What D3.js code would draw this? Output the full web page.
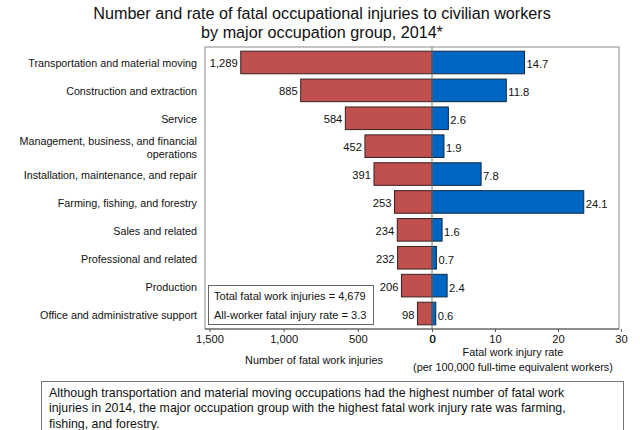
<!DOCTYPE html>
<html><head><meta charset="utf-8">
<script src="https://cdn.jsdelivr.net/npm/d3@7"></script>
<style>
body{margin:0;background:#fff;}
svg{font-family:"Liberation Sans",Arial,sans-serif;}
</style></head>
<body><svg id="c" width="640" height="430"></svg>
<script>
const categories = [
  "Transportation and material moving",
  "Construction and extraction",
  "Service",
  "Management, business, and financial|operations",
  "Installation, maintenance, and repair",
  "Farming, fishing, and forestry",
  "Sales and related",
  "Professional and related",
  "Production",
  "Office and administrative support"
];
const fatalCounts = [1289, 885, 584, 452, 391, 253, 234, 232, 206, 98];
const fatalRates = [14.7, 11.8, 2.6, 1.9, 7.8, 24.1, 1.6, 0.7, 2.4, 0.6];
const countTicks = [1500, 1000, 500, 0];
const rateTicks = [0, 10, 20, 30];
const titleLines = ["Number and rate of fatal occupational injuries to civilian workers", "by major occupation group, 2014*"];
const boxLines = ["Total fatal work injuries = 4,679", "All-worker fatal injury rate = 3.3"];
const noteLines = ["Although transportation and material moving occupations had the highest number of fatal work",
  "injuries in 2014, the major occupation group with the highest fatal work injury rate was farming,",
  "fishing, and forestry."];

const svg = d3.select("#c");
const L = 205, R = 619, T = 47, B = 329, Z = 432;
const xL = d3.scaleLinear().domain([1530, 0]).range([L, Z]);
const xR = d3.scaleLinear().domain([0, 29.7]).range([Z, R]);
const y = d3.scaleBand().domain(d3.range(categories.length)).range([T, B]).paddingInner(0.19).paddingOuter(0.15);

// size a group of texts so that a reference text gets a target width
function fit(sel, refNode, target) {
  const base = 10;
  sel.attr("font-size", base);
  const w = refNode.getComputedTextLength();
  const s = base * target / w;
  sel.attr("font-size", s);
  return s;
}

// title
const title = svg.append("g").selectAll("text").data(titleLines).join("text")
  .attr("x", 322).attr("y", (d, i) => 18.5 + i * 19)
  .attr("text-anchor", "middle").attr("fill", "#111").text(d => d);
fit(title, title.nodes()[0], 458);

// plot box
svg.append("rect").attr("x", L).attr("y", T).attr("width", R - L).attr("height", B - T)
  .attr("fill", "none").attr("stroke", "#8a8a8a").attr("stroke-width", 1);

// bars
const rows = svg.append("g").selectAll("g").data(categories).join("g");
rows.append("rect")
  .attr("x", (d, i) => xL(fatalCounts[i])).attr("y", (d, i) => y(i))
  .attr("width", (d, i) => Z - xL(fatalCounts[i])).attr("height", y.bandwidth())
  .attr("fill", "#C0504D").attr("stroke", "#3a2020").attr("stroke-width", 1);
rows.append("rect")
  .attr("x", Z).attr("y", (d, i) => y(i))
  .attr("width", (d, i) => xR(fatalRates[i]) - Z).attr("height", y.bandwidth())
  .attr("fill", "#0066C4").attr("stroke", "#10283f").attr("stroke-width", 1);

// zero line
svg.append("line").attr("x1", Z).attr("x2", Z).attr("y1", T).attr("y2", B)
  .attr("stroke", "#777").attr("stroke-width", 1);

// value labels
const numSize = 11.2;
rows.append("text")
  .attr("x", (d, i) => xL(fatalCounts[i]) - 3).attr("y", (d, i) => y(i) + y.bandwidth() / 2 + 5)
  .attr("text-anchor", "end").attr("font-size", numSize).attr("fill", "#111")
  .text((d, i) => d3.format(",")(fatalCounts[i]));
rows.append("text")
  .attr("x", (d, i) => xR(fatalRates[i]) + 2).attr("y", (d, i) => y(i) + y.bandwidth() / 2 + 6)
  .attr("font-size", numSize).attr("fill", "#111")
  .text((d, i) => d3.format(".1f")(fatalRates[i]));

// category labels
rows.each(function(d, i) {
  const parts = d.split("|");
  const cy = y(i) + y.bandwidth() / 2;
  d3.select(this).selectAll("text.cat").data(parts).join("text").attr("class", "cat")
    .attr("x", 197).attr("y", (p, j) => cy + 5 + (j - (parts.length - 1) / 2) * 13)
    .attr("text-anchor", "end").attr("fill", "#111").text(p => p);
});
const cats = svg.selectAll("text.cat");
fit(cats, cats.nodes()[0], 169);

// axes
const axL = d3.axisBottom(xL).tickValues(countTicks).tickFormat(d3.format(",")).tickSize(3).tickPadding(3);
const axR = d3.axisBottom(xR).tickValues(rateTicks).tickSize(3).tickPadding(3);
const gL = svg.append("g").attr("transform", `translate(0,${B})`).call(axL);
const gR = svg.append("g").attr("transform", `translate(0,${B})`).call(axR);
[gL, gR].forEach(g => {
  g.select(".domain").remove();
  g.selectAll("line").attr("stroke", "#555");
  g.selectAll("text").attr("font-size", numSize).attr("fill", "#111").attr("font-family", "Liberation Sans");
});
svg.append("line").attr("x1", L).attr("x2", R).attr("y1", B).attr("y2", B).attr("stroke", "#555");

// axis titles
const t1 = svg.append("text").attr("x", 314).attr("y", 364).attr("text-anchor", "middle")
  .attr("fill", "#111").text("Number of fatal work injuries");
fit(t1, t1.node(), 138);
const t2 = svg.append("text").attr("x", 513).attr("y", 356).attr("text-anchor", "middle")
  .attr("fill", "#111").text("Fatal work injury rate");
const t3 = svg.append("text").attr("x", 513).attr("y", 371).attr("text-anchor", "middle")
  .attr("fill", "#111").text("(per 100,000 full-time equivalent workers)");
const s3 = fit(t3, t3.node(), 200);
t2.attr("font-size", s3);

// summary box
svg.append("rect").attr("x", 208.5).attr("y", 285.5).attr("width", 165).attr("height", 39)
  .attr("fill", "#fff").attr("stroke", "#666").attr("stroke-width", 1);
const bl = svg.append("g").selectAll("text").data(boxLines).join("text")
  .attr("x", 214).attr("y", (d, i) => 300 + i * 18.5)
  .attr("fill", "#111").text(d => d);
fit(bl, bl.nodes()[0], 152);

// note box
svg.append("rect").attr("x", 41.5).attr("y", 381.5).attr("width", 582).attr("height", 60)
  .attr("fill", "#fff").attr("stroke", "#777").attr("stroke-width", 1);
const nl = svg.append("g").selectAll("text").data(noteLines).join("text")
  .attr("x", 49).attr("y", (d, i) => 396.5 + i * 15.5)
  .attr("fill", "#111").text(d => d);
fit(nl, nl.nodes()[0], 516);
</script></body></html>
